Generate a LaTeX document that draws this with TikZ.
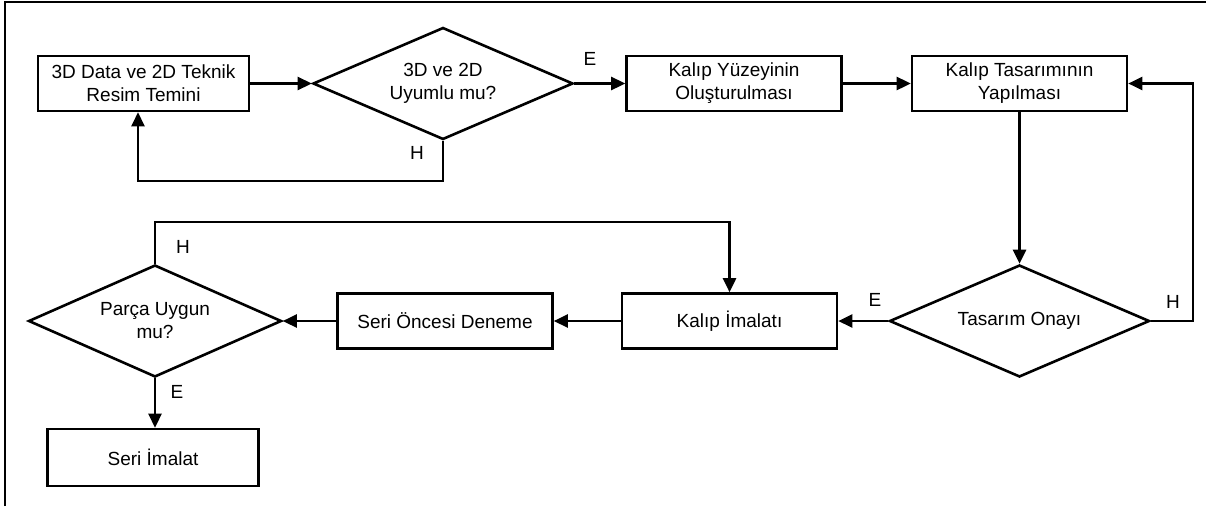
\documentclass[tikz,border=0pt]{standalone}
\usepackage{fontspec}
\setmainfont{Liberation Sans}
\usetikzlibrary{shapes.geometric,arrows.meta}
\tikzset{
  box/.style={draw, line width=2.6pt, minimum width=215pt, minimum height=55pt, inner sep=0pt, align=center, font=\fontsize{19}{23}\selectfont},
  dec/.style={draw, diamond, aspect=2.34, line width=2.6pt, minimum width=260pt, minimum height=112pt, inner sep=0pt, align=center, font=\fontsize{19}{23}\selectfont},
  arr/.style={line width=2.6pt, -{Triangle[length=14pt,width=13pt]}},
  lbl/.style={inner sep=0pt, font=\fontsize{19}{23}\selectfont},
  frame/.style={line width=2.6pt}
}
\begin{document}
\begin{tikzpicture}[x=1pt,y=-1pt]
\useasboundingbox (0,0) rectangle (1206,506);
\draw[frame] (5,506) -- (5,2) -- (1206,2);
% top row
\node[box, minimum width=211pt] (b1) at (143.5,83.5) {3D Data ve 2D Teknik\\Resim Temini};
\node[dec] (d1) at (443,83.5) {3D ve 2D\\Uyumlu mu?};
\node[box] (b2) at (734,83.5) {Kalıp Yüzeyinin\\Oluşturulması};
\node[box] (b3) at (1019.5,83.5) {Kalıp Tasarımının\\Yapılması};
% middle row
\node[dec] (d2) at (1019.5,321) {Tasarım Onayı};
\node[box] (b4) at (729.5,321) {Kalıp İmalatı};
\node[box] (b5) at (445,321) {Seri Öncesi Deneme};
\node[dec, minimum width=253pt] (d3) at (155,321) {Parça Uygun\\mu?};
% bottom
\node[box, minimum width=211pt, minimum height=57pt] (b6) at (153,457.5) {Seri İmalat};
% helper coordinates
\coordinate (c1) at (138,181);
\coordinate (c2) at (729.5,222);
\coordinate (c3) at (1193,321);
% connectors
\draw[arr] (b1.east) -- (d1.west);
\draw[arr] (d1.east) -- (b2.west);
\draw[arr] (d1.south) |- (c1) -- (c1 |- b1.south);
\draw[arr] (b2.east) -- (b3.west);
\draw[arr] (b3.south) -- (d2.north);
\draw[arr] (d2.east) -- (c3) |- (b3.east);
\draw[arr] (d2.west) -- (b4.east);
\draw[arr] (b4.west) -- (b5.east);
\draw[arr] (b5.west) -- (d3.east);
\draw[arr] (d3.north) |- (c2) -- (b4.north);
\draw[arr] (d3.south) -- (d3.south |- b6.north);
% labels
\node[lbl] (lE1) at (590,59) {E};
\node[lbl] (lH1) at (417,153) {H};
\node[lbl] (lE2) at (875,300) {E};
\node[lbl] (lH2) at (1173,302) {H};
\node[lbl] (lH3) at (183,247) {H};
\node[lbl] (lE3) at (177,392) {E};
\end{tikzpicture}
\end{document}
